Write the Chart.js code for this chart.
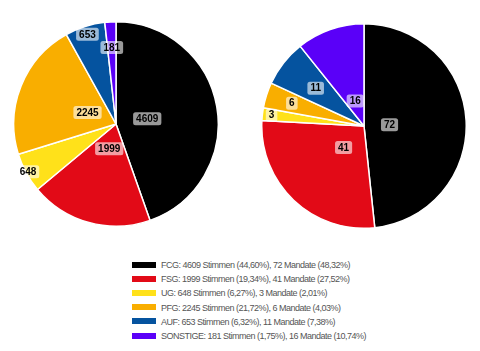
<!DOCTYPE html>
<html>
<head>
<meta charset="utf-8">
<script src="https://cdn.jsdelivr.net/npm/chart.js@4"></script>
<style>
body{margin:0;background:#fff;width:480px;height:351px;overflow:hidden;position:relative;font-family:"Liberation Sans",Arial,sans-serif;}
.pie{position:absolute;width:206px;height:206px;}
#left{left:13px;top:21px;}
#right{left:261px;top:23px;}
#legend{position:absolute;left:132px;top:258px;font-size:9px;letter-spacing:-0.5px;color:#555;}
#legend div{height:14.2px;line-height:14px;white-space:nowrap;}
#legend span{display:inline-block;width:24px;height:6px;margin-right:5px;vertical-align:middle;position:relative;top:-1px;}
</style>
</head>
<body>
<div class="pie" id="left"><canvas id="c1"></canvas></div>
<div class="pie" id="right"><canvas id="c2"></canvas></div>
<div id="legend"></div>
<script>
const parties = ["FCG","FSG","UG","PFG","AUF","SONSTIGE"];
const colors = ["#000000","#e20a17","#ffe11a","#f9ae00","#05539f","#5a00f8"];
const votes = [4609,1999,648,2245,653,181];
const votesPct = ["44,60","19,34","6,27","21,72","6,32","1,75"];
const seats = [72,41,3,6,11,16];
const seatsPct = ["48,32","27,52","2,01","4,03","7,38","10,74"];

/* how far out each label sits (fraction of radius) */
const labelPosVotes = [0.31,0.25,0.98,0.30,0.92,0.75];
const labelPosSeats = [0.25,0.29,0.91,0.74,0.60,0.26];

const boxLabels = {
  id:"boxLabels",
  afterDatasetsDraw(chart, args, opts){
    const ctx = chart.ctx;
    const meta = chart.getDatasetMeta(0);
    const data = chart.data.datasets[0].data;
    ctx.save();
    ctx.font = "bold 10px 'Liberation Sans', Arial, sans-serif";
    ctx.textAlign = "center";
    ctx.textBaseline = "middle";
    meta.data.forEach((arc,i)=>{
      const p = arc.getProps(["x","y","startAngle","endAngle","outerRadius"],true);
      const mid = (p.startAngle+p.endAngle)/2;
      const r = p.outerRadius*opts.pos[i];
      const x = p.x+Math.cos(mid)*r;
      const y = p.y+Math.sin(mid)*r;
      const txt = String(data[i]);
      const w = ctx.measureText(txt).width+6;
      const h = 13;
      ctx.fillStyle = "rgba(255,255,255,0.6)";
      ctx.beginPath();
      ctx.roundRect(x-w/2,y-h/2,w,h,2.5);
      ctx.fill();
      ctx.fillStyle = "#000";
      ctx.fillText(txt,x,y+0.5);
    });
    ctx.restore();
  }
};

function makePie(id, values, pos){
  return new Chart(document.getElementById(id),{
    type:"pie",
    data:{
      labels:parties,
      datasets:[{data:values,backgroundColor:colors,borderColor:"#fff",borderWidth:1.5}]
    },
    options:{
      responsive:true,
      maintainAspectRatio:false,
      animation:false,
      layout:{padding:0},
      plugins:{legend:{display:false},tooltip:{enabled:false},boxLabels:{pos:pos}}
    },
    plugins:[boxLabels]
  });
}

makePie("c1",votes,labelPosVotes);
makePie("c2",seats,labelPosSeats);

/* legend */
const legend = document.getElementById("legend");
parties.forEach((p,i)=>{
  const row = document.createElement("div");
  row.innerHTML = `<span style="background:${colors[i]}"></span>${p}: ${votes[i]} Stimmen (${votesPct[i]}%), ${seats[i]} Mandate (${seatsPct[i]}%)`;
  legend.appendChild(row);
});
</script>
</body>
</html>
